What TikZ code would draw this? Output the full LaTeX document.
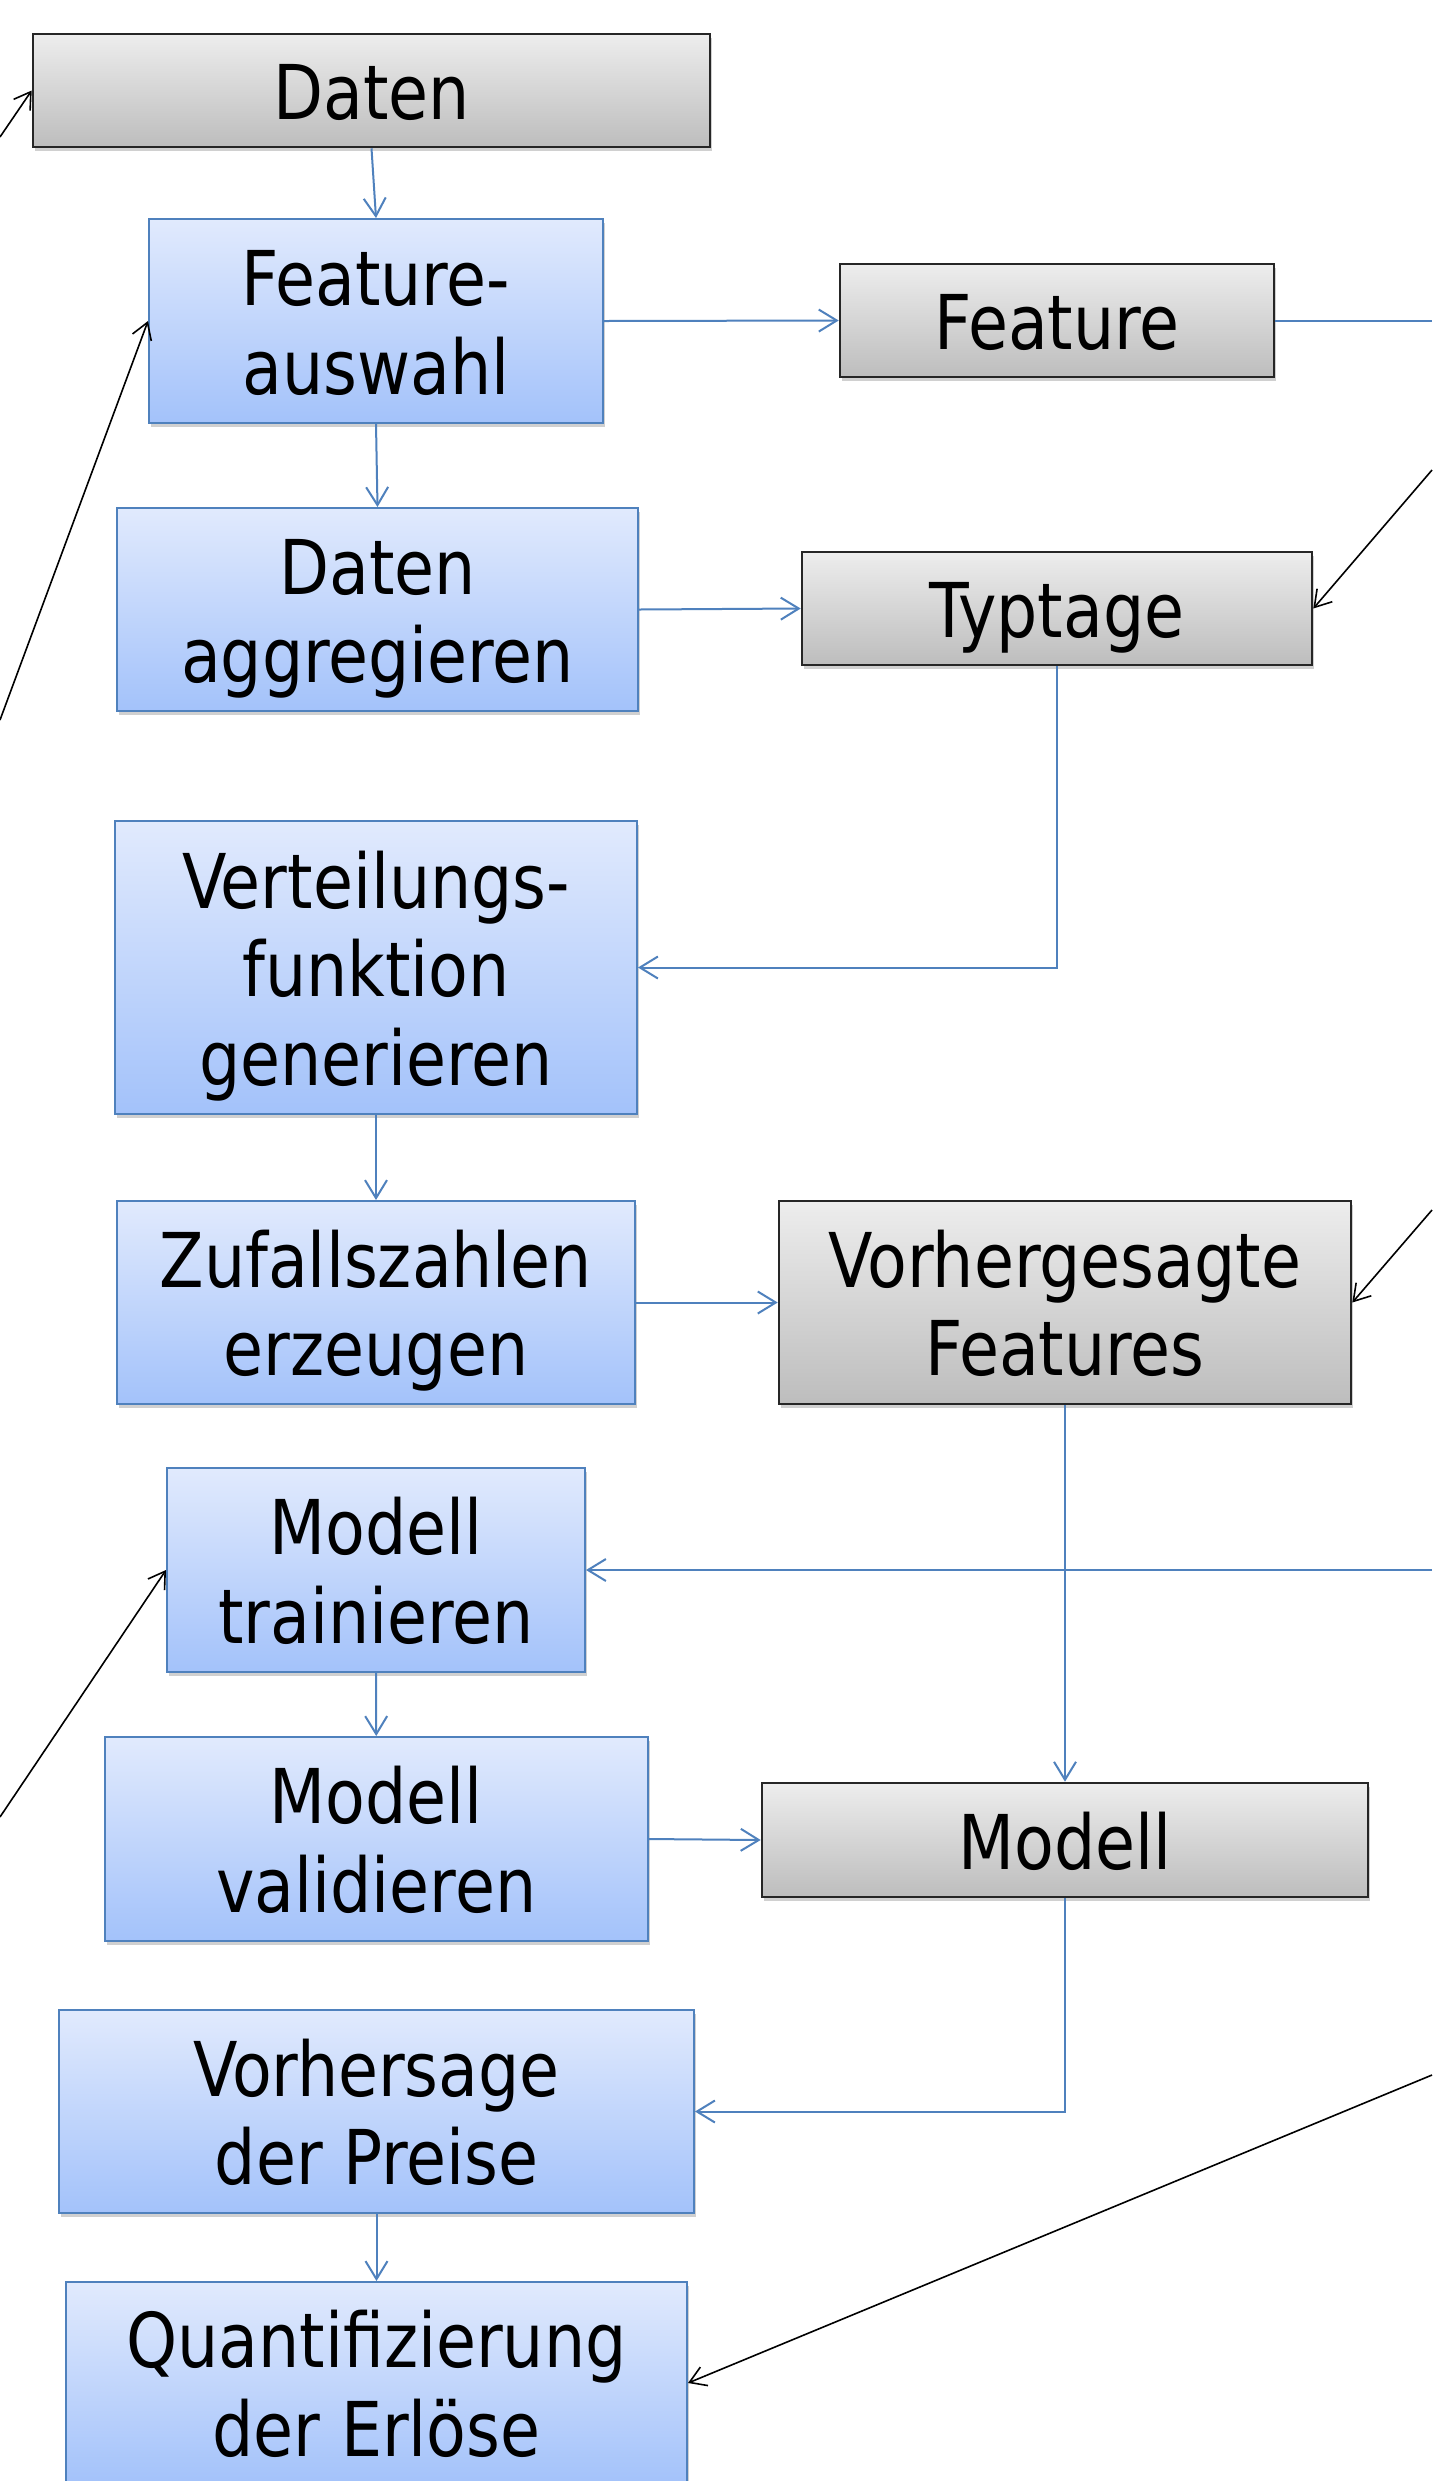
\documentclass[tikz,border=0pt]{standalone}
\usepackage{fontspec}
\setmainfont{DejaVu Sans Condensed}[FakeStretch=0.955]
\usetikzlibrary{arrows.meta,shadows}
\definecolor{bluetop}{HTML}{E1EAFD}
\definecolor{bluebot}{HTML}{A3C2FA}
\definecolor{blueline}{HTML}{4F81BD}
\definecolor{graytop}{HTML}{EDEDED}
\definecolor{graybot}{HTML}{BDBDBD}
\newcommand\mytop{\rule{0pt}{39.1pt}}
\newcommand\mybot{\rule[-10pt]{0pt}{10pt}}
\begin{document}
\begin{tikzpicture}[x=0.5pt,y=-0.5pt,
 box/.style={rectangle, inner sep=0pt, align=center, font=\fontsize{37.8}{44.25}\selectfont,
   drop shadow={shadow xshift=1pt, shadow yshift=-2pt, opacity=0.3, fill=black!60}},
 bluebox/.style={box, draw=blueline, line width=1pt, top color=bluetop, bottom color=bluebot},
 graybox/.style={box, draw=black!85, line width=1.3pt, top color=graytop, bottom color=graybot},
 flow/.style={draw=blueline, line width=1pt, -{Straight Barb[length=9pt,width=11pt]}},
 link/.style={draw=blueline, line width=1pt},
 ext/.style={draw=black, line width=0.8pt, -{Straight Barb[length=8pt,width=10pt]}}
]
\useasboundingbox[fill=white] (0,0) rectangle (1432,2481);

\node[graybox, minimum width=338.5pt, minimum height=56.5pt] (daten) at (371.5,90.5) {\mytop Daten\mybot};
\node[bluebox, minimum width=227pt, minimum height=102pt] (fa) at (376,321) {\mytop Feature-\\auswahl\mybot};
\node[graybox, minimum width=217pt, minimum height=56.5pt] (feature) at (1057,320.5) {\mytop Feature\mybot};
\node[bluebox, minimum width=260.5pt, minimum height=101.5pt] (da) at (377.5,609.5) {\mytop Daten\\aggregieren\mybot};
\node[graybox, minimum width=255pt, minimum height=56.5pt] (typtage) at (1057,608.5) {\mytop Typtage\mybot};
\node[bluebox, minimum width=261pt, minimum height=146.5pt] (vf) at (376,967.5) {\mytop Verteilungs-\\funktion\\generieren\mybot};
\node[bluebox, minimum width=259pt, minimum height=101.5pt] (zz) at (376,1302.5) {\mytop Zufallszahlen\\erzeugen\mybot};
\node[graybox, minimum width=286pt, minimum height=101.5pt] (vfeat) at (1065,1302.5) {\mytop Vorhergesagte\\Features\mybot};
\node[bluebox, minimum width=209pt, minimum height=102pt] (mt) at (376,1570) {\mytop Modell\\trainieren\mybot};
\node[bluebox, minimum width=271.75pt, minimum height=102pt] (mv) at (376.25,1839) {\mytop Modell\\validieren\mybot};
\node[graybox, minimum width=303pt, minimum height=57pt] (modell) at (1065,1840) {\mytop Modell\mybot};
\node[bluebox, minimum width=317.5pt, minimum height=101.5pt] (vp) at (376.5,2111.5) {\mytop Vorhersage\\der Preise\mybot};
\node[bluebox, minimum width=310.5pt, minimum height=101pt] (qe) at (376.5,2383) {\mytop Quantifizierung\\der Erlöse\mybot};

\draw[flow] (daten.south) -- (fa.north);
\draw[flow] (fa.east) -- (feature.west);
\draw[flow] (fa.south) -- (da.north);
\draw[flow] (da.east) -- (typtage.west);
\draw[flow] (typtage.south) |- (vf.east);
\draw[flow] (vf.south) -- (zz.north);
\draw[flow] (zz.east) -- (vfeat.west);
\draw[flow] (vfeat.south) -- (modell.north);
\coordinate (rMT) at (1432,1570);
\draw[flow] (rMT) -- (mt.east);
\coordinate (rFeat) at (1432,320.5);
\draw[link] (feature.east) -- (rFeat);
\draw[flow] (mt.south) -- (mv.north);
\draw[flow] (mv.east) -- (modell.west);
\draw[flow] (modell.south) |- (vp.east);
\draw[flow] (vp.south) -- (qe.north);

\coordinate (lDaten) at (0,137);
\draw[ext] (lDaten) -- (daten.west);
\coordinate (lFA) at (0,720);
\draw[ext] (lFA) -- (fa.west);
\coordinate (rTyp) at (1432,470);
\draw[ext] (rTyp) -- (typtage.east);
\coordinate (rVF) at (1432,1210);
\draw[ext] (rVF) -- (vfeat.east);
\coordinate (lMT) at (0,1817);
\draw[ext] (lMT) -- (mt.west);
\coordinate (rQE) at (1432,2075);
\draw[ext] (rQE) -- (qe.east);
\end{tikzpicture}
\end{document}
